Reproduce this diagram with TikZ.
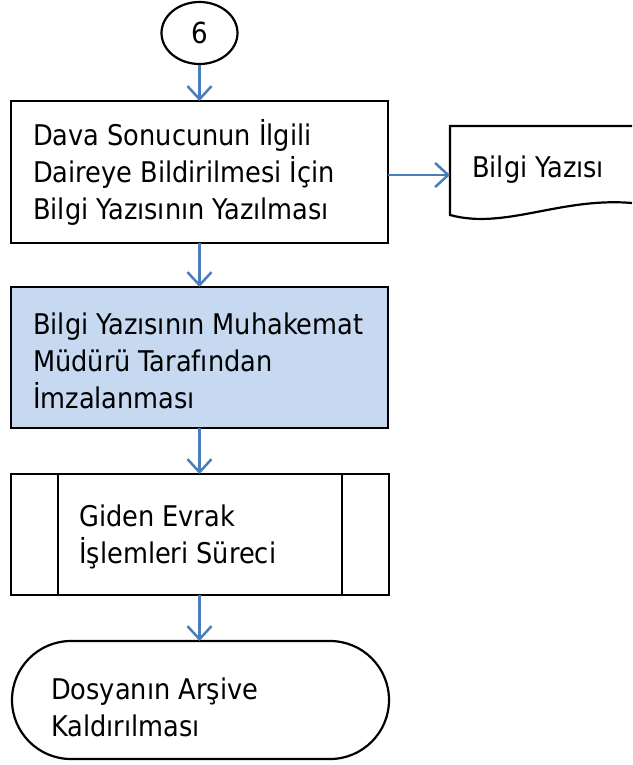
\documentclass[tikz,border=0pt]{standalone}
\usepackage{fontspec}
\setmainfont{DejaVu Sans Condensed}
\usetikzlibrary{arrows.meta,shapes.geometric}
\definecolor{arrowblue}{RGB}{74,126,187}
\definecolor{boxblue}{RGB}{198,217,241}
\tikzset{
  box/.style={draw=black, line width=2.2pt},
  txt/.style={anchor=west, align=left, inner sep=0pt, font=\fontsize{28.5}{37}\selectfont},
  flow/.style={draw=arrowblue, line width=2.5pt, -{Straight Barb[length=13pt,width=24pt,line width=2.5pt]}},
}
\begin{document}
\begin{tikzpicture}[x=1pt,y=-1pt]
\useasboundingbox (0,0) rectangle (632,765);
% connector circle
\node[ellipse, draw=black, line width=2.2pt, minimum width=76pt, minimum height=62pt, inner sep=0pt, font=\fontsize{29}{32}\selectfont] (c6) at (199.5,33) {6};
% box 1
\draw[box] (11,101) rectangle (388,243);
\coordinate (b1n) at (199.5,101);
\coordinate (b1s) at (199.5,243);
\coordinate (b1e) at (388,175);
\node[txt] (t1) at (33,172) {Dava Sonucunun İlgili\\Daireye Bildirilmesi İçin\\Bilgi Yazısının Yazılması};
% document
\draw[line width=2.2pt] (632,126) -- (450,126) -- (450,215) .. controls (505,230) and (560,197) .. (632,203);
\coordinate (docw) at (450,175);
\node[txt] (tdoc) at (472,170) {Bilgi Yazısı};
% box 2
\draw[box, fill=boxblue] (11,287) rectangle (388,428);
\coordinate (b2n) at (199.5,287);
\coordinate (b2s) at (199.5,428);
\node[txt] (t2) at (33,361) {Bilgi Yazısının Muhakemat\\Müdürü Tarafından\\İmzalanması};
% subprocess
\draw[box] (11,474) rectangle (389,595);
\draw[box] (58,474) -- (58,595);
\draw[box] (342,474) -- (342,595);
\coordinate (b3n) at (199.5,474);
\coordinate (b3s) at (199.5,595);
\node[txt] (t3) at (79,537) {Giden Evrak\\İşlemleri Süreci};
% terminator
\draw[box, rounded corners=59pt] (12,641) rectangle (389,759);
\coordinate (b4n) at (199.5,641);
\node[txt] (t4) at (51,707) {Dosyanın Arşive\\Kaldırılması};
% arrows
\draw[flow] (c6.south) -- (b1n);
\draw[flow] (b1e) -- (docw);
\draw[flow] (b1s) -- (b2n);
\draw[flow] (b2s) -- (b3n);
\draw[flow] (b3s) -- (b4n);
\end{tikzpicture}
\end{document}
